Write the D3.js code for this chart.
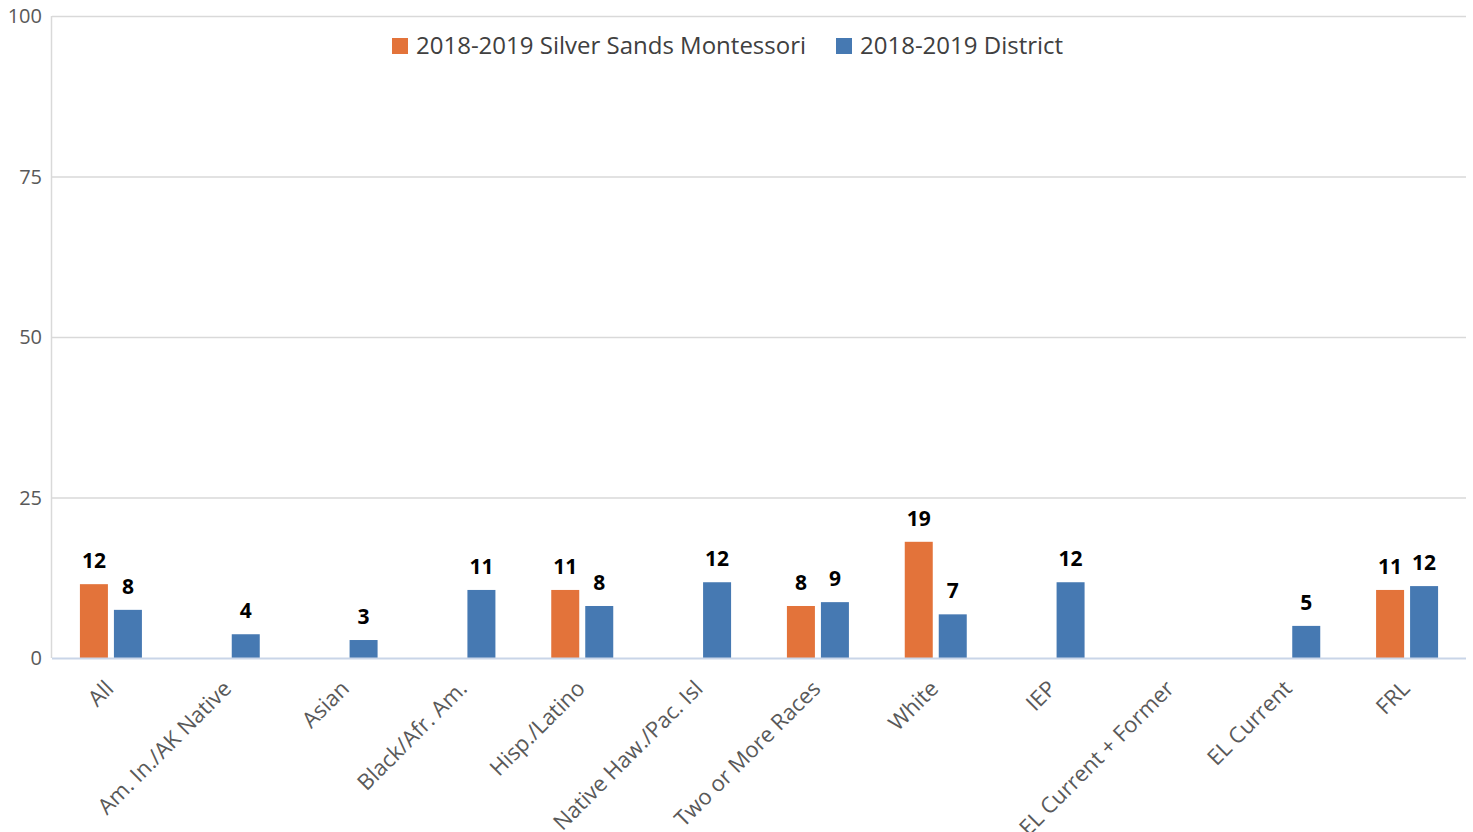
<!DOCTYPE html>
<html>
<head>
<meta charset="utf-8">
<script src="https://cdn.jsdelivr.net/npm/d3@7"></script>
<style>
  body { margin: 0; background: #fff; }
  svg { display: block; font-family: "Open Sans", sans-serif; }
</style>
</head>
<body>
<div id="chart"></div>
<script>
var categories = ["All", "Am. In./AK Native", "Asian", "Black/Afr. Am.", "Hisp./Latino",
    "Native Haw./Pac. Isl", "Two or More Races", "White", "IEP", "EL Current + Former",
    "EL Current", "FRL"];
var seriesNames = ["2018-2019 Silver Sands Montessori", "2018-2019 District"];
// bar heights, null = no bar
var schoolValues = [11.5, null, null, null, 10.6, null, 8.1, 18.1, null, null, null, 10.6];
var districtValues = [7.5, 3.7, 2.8, 10.6, 8.1, 11.8, 8.7, 6.8, 11.8, null, 5.0, 11.2];
// printed data labels
var schoolLabels = ["12", null, null, null, "11", null, "8", "19", null, null, null, "11"];
var districtLabels = ["8", "4", "3", "11", "8", "12", "9", "7", "12", null, "5", "12"];
var yTicks = [0, 25, 50, 75, 100];
var colors = ["#E3733A", "#4679B2"];

(function () {
    var width = 1473, height = 832;
    var margin = {top: 16, right: 7, bottom: 174, left: 52};

    var svg = d3.select("#chart").append("svg")
        .attr("width", width)
        .attr("height", height);

    var x = d3.scaleBand()
        .domain(categories)
        .range([margin.left, width - margin.right]);

    var y = d3.scaleLinear()
        .domain([0, 100])
        .range([height - margin.bottom, margin.top]);

    var barW = 28, gap = 6;
    var xSub = d3.scaleOrdinal()
        .domain([0, 1])
        .range([-(barW + gap / 2), gap / 2]);

    // gridlines
    svg.append("g")
        .selectAll("line")
        .data(yTicks.filter(d => d > 0))
        .join("line")
        .attr("x1", margin.left)
        .attr("x2", width - margin.right)
        .attr("y1", d => y(d) + 0.5)
        .attr("y2", d => y(d) + 0.5)
        .attr("stroke", "#d9d9d9")
        .attr("stroke-width", 1.5);

    // left axis line
    svg.append("line")
        .attr("x1", margin.left - 0.5).attr("x2", margin.left - 0.5)
        .attr("y1", y(100)).attr("y2", y(0))
        .attr("stroke", "#d9d9d9")
        .attr("stroke-width", 1.5);

    // y tick labels
    svg.append("g")
        .selectAll("text")
        .data(yTicks)
        .join("text")
        .attr("x", 42)
        .attr("y", d => y(d))
        .attr("dy", "0.35em")
        .attr("text-anchor", "end")
        .attr("fill", "#595959")
        .style("font-size", "20px")
        .text(d => d);

    var rows = categories.map(function (c, i) {
        return {cat: c, vals: [schoolValues[i], districtValues[i]], labels: [schoolLabels[i], districtLabels[i]]};
    });

    var bars = [];
    var labels = [];
    rows.forEach(function (r) {
        r.vals.forEach(function (v, s) {
            if (v != null) {
                bars.push({cat: r.cat, s: s, v: v});
                labels.push({cat: r.cat, s: s, v: v, t: r.labels[s]});
            }
        });
    });

    svg.append("g")
        .selectAll("rect")
        .data(bars)
        .join("rect")
        .attr("x", d => x(d.cat) + x.bandwidth() / 2 + xSub(d.s))
        .attr("width", barW)
        .attr("y", d => y(d.v))
        .attr("height", d => y(0) - y(d.v))
        .attr("fill", d => colors[d.s]);

    // zero line
    svg.append("line")
        .attr("x1", margin.left).attr("x2", width - margin.right)
        .attr("y1", y(0) + 0.5).attr("y2", y(0) + 0.5)
        .attr("stroke", "#c9d5e8")
        .attr("stroke-width", 2);

    // data labels
    svg.append("g")
        .selectAll("text")
        .data(labels)
        .join("text")
        .attr("x", d => x(d.cat) + x.bandwidth() / 2 + xSub(d.s) + barW / 2)
        .attr("y", d => y(d.v) - 16)
        .attr("text-anchor", "middle")
        .attr("fill", "#000")
        .style("font-size", "21px")
        .style("font-weight", "bold")
        .text(d => d.t);

    // x labels
    svg.append("g")
        .selectAll("text")
        .data(categories)
        .join("text")
        .attr("transform", d => "translate(" + (x(d) + x.bandwidth() / 2 + 4) + "," + (y(0) + 32) + ") rotate(-45)")
        .attr("text-anchor", "end")
        .attr("fill", "#595959")
        .style("font-size", "22px")
        .text(d => d);

    // legend
    var legend = svg.append("g");
    var lx = [392, 836];
    seriesNames.forEach(function (n, i) {
        legend.append("rect")
            .attr("x", lx[i]).attr("y", 38)
            .attr("width", 16).attr("height", 16)
            .attr("fill", colors[i]);
        legend.append("text")
            .attr("x", lx[i] + 24).attr("y", 46)
            .attr("dy", "0.35em")
            .attr("fill", "#404040")
            .style("font-size", "24px")
            .text(n);
    });
})();
</script>
</body>
</html>
